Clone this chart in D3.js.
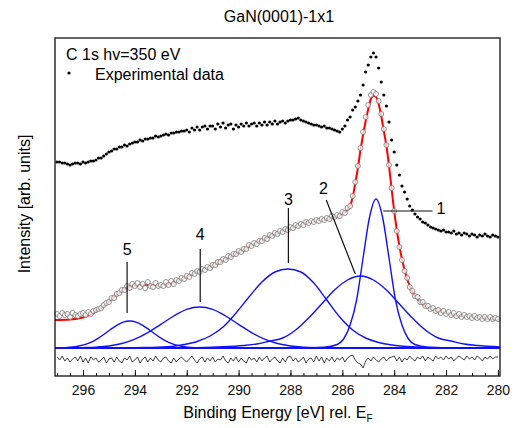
<!doctype html>
<html>
<head>
<meta charset="utf-8">
<script src="https://cdnjs.cloudflare.com/ajax/libs/d3/7.8.5/d3.min.js"></script>
<style>
  body { margin: 0; background: #fff; }
  svg { display: block; font-family: Arial, "Liberation Sans", sans-serif; }
</style>
</head>
<body>
<svg id="chart" width="515" height="428"></svg>
<script>
// measured spectra sit on a 0.1 eV grid, 297.0 -> 280.0 eV
var energy = d3.range(2970, 2799, -1).map(d => d / 10);

// experimental data (raw), one row per eV
var expData = [
  186,186,185,185,184,183,184,185,185,184,
  186,185,186,187,187,188,190,190,192,194,
  196,197,199,199,201,201,203,202,204,205,
  206,206,208,207,209,209,210,210,212,211,
  212,213,214,213,215,215,216,216,217,217,
  218,216,220,218,221,218,221,222,219,222,
  222,219,224,221,225,220,223,224,219,223,
  221,224,222,225,222,224,225,222,225,223,
  226,223,226,224,227,224,226,227,225,227,
  228,228,229,230,228,227,226,225,224,223,
  223,222,221,222,220,220,219,218,217,216,
  219,222,228,231,238,241,247,253,263,276,
  283,291,295,291,280,266,253,242,226,208,
  196,183,173,162,156,149,142,138,134,131,
  129,126,125,123,121,120,119,118,117,118,
  116,116,115,117,114,115,113,115,114,112,
  114,113,111,113,112,114,112,111,113,112,
  111
];

// background-corrected spectrum (open circles)
var fitData = [
  34,32,35,33,34,31,35,33,32,34,
  35,33,36,34,37,38,39,40,43,45,
  46,50,50,54,55,58,58,62,60,64,
  62,65,61,64,60,66,62,61,65,62,
  63,62,66,63,67,64,68,67,70,69,
  72,71,75,74,77,76,79,78,81,80,
  83,83,86,86,89,88,92,91,94,94,
  97,96,99,99,103,102,105,104,107,107,
  110,109,113,112,115,114,117,116,119,118,
  121,120,123,122,124,123,126,125,127,126,
  128,127,129,128,130,129,132,131,133,132,
  136,135,140,142,152,166,182,200,216,231,
  243,253,256,254,247,234,219,203,183,160,
  137,117,101,88,77,70,61,57,52,51,
  46,46,42,42,39,40,37,38,35,37,
  34,36,33,35,32,34,31,33,31,32,
  30,32,30,31,29,31,29,31,29,30,
  29
];

// residual (data - fit), shifted below baseline
var residual = [
  -9,-12,-8,-13,-10,-14,-11,-9,-13,-8,
  -14,-10,-15,-9,-12,-10,-14,-12,-9,-15,
  -11,-10,-14,-9,-13,-15,-10,-12,-8,-14,
  -12,-9,-15,-11,-9,-14,-10,-13,-8,-12,
  -14,-10,-9,-13,-15,-10,-14,-11,-9,-12,
  -14,-11,-8,-12,-15,-11,-9,-14,-10,-13,
  -9,-14,-11,-12,-8,-13,-15,-10,-13,-9,
  -14,-10,-13,-15,-9,-12,-10,-14,-9,-13,
  -10,-8,-14,-11,-9,-13,-15,-10,-14,-9,
  -8,-13,-10,-14,-12,-9,-15,-11,-10,-14,
  -8,-13,-9,-15,-10,-13,-9,-14,-10,-12,
  -9,-14,-10,-8,-7,-12,-15,-16,-20,-13,
  -10,-13,-9,-12,-14,-11,-9,-13,-10,-9,
  -8,-13,-9,-14,-10,-12,-8,-11,-13,-9,
  -11,-8,-13,-9,-11,-13,-8,-11,-9,-12,
  -8,-11,-9,-13,-10,-8,-10,-12,-8,-11,
  -9,-12,-8,-10,-13,-9,-11,-8,-11,-9,
  -9
];

// envelope of the fit (red line)
var envE = [297.08,296.5,296.0,295.5,295.0,294.5,294.0,293.5,293.0,292.5,292.0,291.5,291.0,290.5,290.0,
  289.5,289.0,288.5,288.0,287.5,287.0,286.5,286.2,286.0,285.9,285.8,285.7,285.6,285.5,285.4,285.3,
  285.2,285.1,285.0,284.9,284.8,284.7,284.6,284.5,284.4,284.3,284.2,284.1,284.0,283.9,283.8,283.7,
  283.6,283.5,283.4,283.3,283.2,283.1,283.0,282.8,282.6,282.4,282.2,282.0,281.5,281.0,280.5,280.0,279.92];
var envI = [28,28.5,30.5,36,46,57,62.5,63,62.5,65.5,71,76.5,82,88.5,95.5,
  102.5,109,115,120,124,127,129.5,132,134,135.5,138,142,151,165,180,198,
  213,227,239,249,252,251,244,232,217,202,182,159,137,118,102,89,
  78,69,62,56,52,49,46,42,39.5,37.5,36,35,32.5,31,29.5,28.5,28.5];

// fitted components [energy, intensity]
var peak1 = [[288.0,0],[286.7,0.8],[286.2,3.5],[285.95,9],[285.7,23],[285.45,48],[285.2,90],[284.95,131],
  [284.7,149],[284.45,131],[284.2,90],[283.95,48],[283.7,23],[283.45,9],[283.2,3.5],[282.7,0.8],[281.5,0]];
var peak2 = [[292.0,0],[290.8,1],[289.8,2.5],[289.3,4],[288.8,7],[288.3,10],[287.8,18],[287.3,30],[286.8,44],
  [286.3,58],[285.8,68],[285.3,72],[284.8,68],[284.3,58],[283.8,44],[283.3,30],[282.8,18],[282.3,10],
  [281.8,7],[281.3,4],[280.8,2.5],[279.92,1]];
var peak3 = [[294.5,0],[293.6,0.5],[292.6,1.5],[292.1,3.5],[291.6,6.5],[291.1,12],[290.6,21],[290.1,35],
  [289.6,51],[289.1,66],[288.6,76],[288.1,79],[287.6,76],[287.1,65],[286.6,48],[286.1,31],[285.6,18],
  [285.1,10],[284.6,5.5],[284.1,3],[283.1,1],[282.1,0.3],[280.5,0]];
var peak4 = [[297.0,0],[296.0,0.4],[295.5,0.9],[295.0,2],[294.5,4.5],[294.0,8.9],[293.5,15.4],[293.0,23.7],
  [292.5,32],[292.0,38.6],[291.5,41],[291.0,38.6],[290.5,32],[290.0,23.7],[289.5,15.4],[289.0,8.9],
  [288.5,4.5],[288.0,2],[287.5,0.9],[286.5,0.2],[285.0,0]];
var peak5 = [[297.08,0],[296.7,0.3],[296.2,1.7],[295.7,5.7],[295.45,9.2],[295.2,13.5],[294.95,18.3],
  [294.7,22.7],[294.45,25.9],[294.2,27],[293.95,25.9],[293.7,22.7],[293.45,18.3],[293.2,13.5],
  [292.95,9.2],[292.7,5.7],[292.2,1.7],[291.7,0.3],[291.0,0]];
var baseline = [[297.08,0],[279.92,0]];

var peakNames = ["1","2","3","4","5"];
var majorTicks = [280,282,284,286,288,290,292,294,296];

var svg = d3.select("#chart");
var x = d3.scaleLinear().domain([297.08, 279.92]).range([55, 500]);
var y = d3.scaleLinear().domain([-28, 310]).range([376, 38]);

var line = d3.line().x(d => x(d[0])).y(d => y(d[1]));
var smooth = d3.line().x(d => x(d[0])).y(d => y(d[1])).curve(d3.curveMonotoneX);

// baseline + components
svg.append("path").attr("d", line(baseline))
  .attr("fill", "none").attr("stroke", "#1010ff").attr("stroke-width", 1.8);
[peak1, peak2, peak3, peak4, peak5].forEach(function(p) {
  svg.append("path").attr("d", smooth(p))
    .attr("fill", "none").attr("stroke", "#1010ff").attr("stroke-width", 1.4);
});

// residual
svg.append("path").attr("d", line(energy.map((e, i) => [e, residual[i]])))
  .attr("fill", "none").attr("stroke", "#111").attr("stroke-width", 0.8);

// fit envelope
svg.append("path").attr("d", smooth(envE.map((e, i) => [e, envI[i]])))
  .attr("fill", "none").attr("stroke", "#ff0000").attr("stroke-width", 2);

// open circles
svg.append("g").selectAll("circle")
  .data(energy.map((e, i) => [e, fitData[i]]))
  .enter().append("circle")
  .attr("cx", d => x(d[0])).attr("cy", d => y(d[1])).attr("r", 2.5)
  .attr("fill", "#fff").attr("fill-opacity", 0.75)
  .attr("stroke", "#777").attr("stroke-width", 0.8);

// experimental points
svg.append("g").selectAll("circle")
  .data(energy.map((e, i) => [e, expData[i]]))
  .enter().append("circle")
  .attr("cx", d => x(d[0])).attr("cy", d => y(d[1])).attr("r", 1.6)
  .attr("fill", "#000");

// peak annotations: text pos, leader line from/to
var notes = [
  {t: [282.2, 134], a: [284.42, 137], b: [282.52, 137]},
  {t: [286.73, 154], a: [286.62, 148], b: [285.5, 74]},
  {t: [288.08, 143], a: [288.08, 140], b: [288.08, 85]},
  {t: [291.48, 108], a: [291.48, 99], b: [291.48, 46]},
  {t: [294.3, 93], a: [294.3, 86], b: [294.3, 35]}
];
notes.forEach(function(n, i) {
  svg.append("line")
    .attr("x1", x(n.a[0])).attr("y1", y(n.a[1]))
    .attr("x2", x(n.b[0])).attr("y2", y(n.b[1]))
    .attr("stroke", "#111").attr("stroke-width", 1.2);
  svg.append("text").attr("x", x(n.t[0])).attr("y", y(n.t[1]))
    .attr("text-anchor", "middle").attr("font-size", 16).text(peakNames[i]);
});

// x axis, ticks pointing inward
svg.append("g").attr("transform", "translate(0,376)")
  .call(d3.axisBottom(x).tickValues(d3.range(280, 297.01, 0.5)).tickSize(-3).tickFormat(""))
  .call(g => g.select(".domain").remove());
svg.append("g").attr("transform", "translate(0,376)")
  .call(d3.axisBottom(x).tickValues(majorTicks).tickSize(-6).tickPadding(9).tickFormat(d3.format("d")))
  .call(g => g.select(".domain").remove())
  .attr("font-size", 14).attr("font-family", "Arial, 'Liberation Sans', sans-serif");
svg.selectAll(".tick line").attr("stroke", "#111");
svg.selectAll(".tick text").attr("fill", "#111");

// frame
svg.append("rect").attr("x", 55).attr("y", 38).attr("width", 445).attr("height", 338)
  .attr("fill", "none").attr("stroke", "#222").attr("stroke-width", 1.4);

// titles
svg.append("text").attr("x", 279).attr("y", 22).attr("text-anchor", "middle")
  .attr("font-size", 16).text("GaN(0001)-1x1");
var xl = svg.append("text").attr("x", 278).attr("y", 418).attr("text-anchor", "middle")
  .attr("font-size", 16);
xl.append("tspan").text("Binding Energy [eV] rel. E");
xl.append("tspan").attr("font-size", 10).attr("dy", 4).text("F");
svg.append("text").attr("transform", "translate(30,204) rotate(-90)")
  .attr("text-anchor", "middle").attr("font-size", 16).text("Intensity [arb. units]");

// legend
svg.append("text").attr("x", 66).attr("y", 60).attr("font-size", 16).text("C 1s hv=350 eV");
svg.append("circle").attr("cx", 69).attr("cy", 73).attr("r", 1.6).attr("fill", "#000");
svg.append("text").attr("x", 95).attr("y", 80).attr("font-size", 16).text("Experimental data");
</script>
</body>
</html>
